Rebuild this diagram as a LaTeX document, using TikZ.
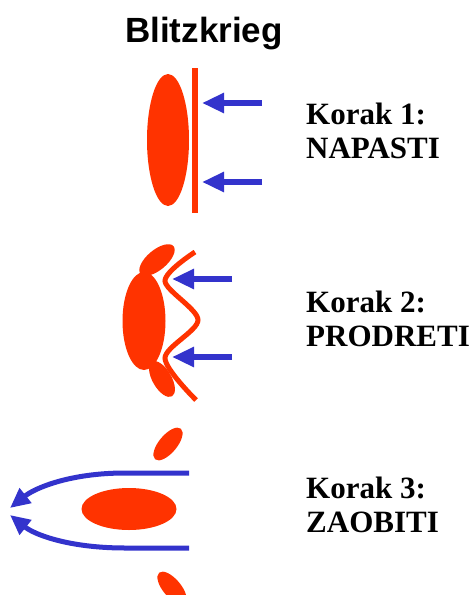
\documentclass[tikz,border=0pt]{standalone}
\usepackage{fontspec}
\setmainfont{Liberation Serif}
\setsansfont{Liberation Sans}
\usepackage{xcolor}
\usepackage{tikz}
\usetikzlibrary{shapes.geometric, arrows.meta, positioning, calc}

\definecolor{armyred}{HTML}{FF3300}
\definecolor{armyblue}{HTML}{3333CC}

\begin{document}
\begin{tikzpicture}[x=1pt, y=-1pt, >={Triangle[length=22pt, width=19pt]}]
    % Styles
    \tikzstyle{troops} = [ellipse, draw=none, fill=armyred, inner sep=0pt]
    \tikzstyle{front} = [draw=armyred, line width=5.5pt]
    \tikzstyle{attack} = [draw=armyblue, line width=6.5pt, ->]
    \tikzstyle{flank} = [draw=armyblue, line width=5pt, -{Triangle[length=20pt, width=18pt]}]
    \tikzstyle{steplabel} = [anchor=base west, inner sep=0pt, align=left, font=\fontsize{31}{34}\selectfont\bfseries]

    \useasboundingbox (0,0) rectangle (476,595);

    % Title
    \node [anchor=base, inner sep=0pt, font=\fontsize{35}{38}\selectfont\sffamily\bfseries] (title) at (204,42) {Blitzkrieg};

    % Step 1: attack
    \node [troops, minimum width=42pt, minimum height=132pt] (army1) at (168,140) {};
    \coordinate (line1top) at (195,68);
    \coordinate (line1bot) at (195,213);
    \draw [front] (line1top) -- (line1bot);
    \coordinate (a1s) at (262,103);
    \coordinate (a1e) at (202,103);
    \coordinate (a2s) at (262,182);
    \coordinate (a2e) at (202,182);
    \draw [attack] (a1s) -- (a1e);
    \draw [attack] (a2s) -- (a2e);
    \node [steplabel] (step1) at (306,158) {Korak 1:\\NAPASTI};

    % Step 2: break through
    \node [troops, minimum width=43pt, minimum height=98pt] (army2) at (144,321) {};
    \node [troops, minimum width=43pt, minimum height=20pt, rotate=40] (wing2a) at (157,260) {};
    \node [troops, minimum width=40pt, minimum height=19pt, rotate=-60] (wing2b) at (162,379) {};
    \draw [front, line width=5pt] plot [smooth, tension=0.5] coordinates {(195,252) (165,281) (198,320) (165,358) (196,400)};
    \coordinate (b1s) at (232,279);
    \coordinate (b1e) at (172,279);
    \coordinate (b2s) at (232,357);
    \coordinate (b2e) at (172,357);
    \draw [attack] (b1s) -- (b1e);
    \draw [attack] (b2s) -- (b2e);
    \node [steplabel] (step2) at (306,346) {Korak 2:\\PRODRETI};

    % Step 3: encircle
    \node [troops, minimum width=95pt, minimum height=42pt] (army3) at (129,509) {};
    \node [troops, minimum width=40pt, minimum height=18pt, rotate=50] (wing3a) at (168,444) {};
    \node [troops, minimum width=40pt, minimum height=18pt, rotate=-50] (wing3b) at (172,588) {};
    \coordinate (c1s) at (189,473);
    \coordinate (c1e) at (10,508);
    \coordinate (c2s) at (189,548);
    \coordinate (c2e) at (10,515);
    \draw [flank] (c1s) -- (125,473) .. controls (70,473) and (35,488) .. (c1e);
    \draw [flank] (c2s) -- (125,548) .. controls (70,548) and (35,535) .. (c2e);
    \node [steplabel] (step3) at (306,532) {Korak 3:\\ZAOBITI};
\end{tikzpicture}
\end{document}
